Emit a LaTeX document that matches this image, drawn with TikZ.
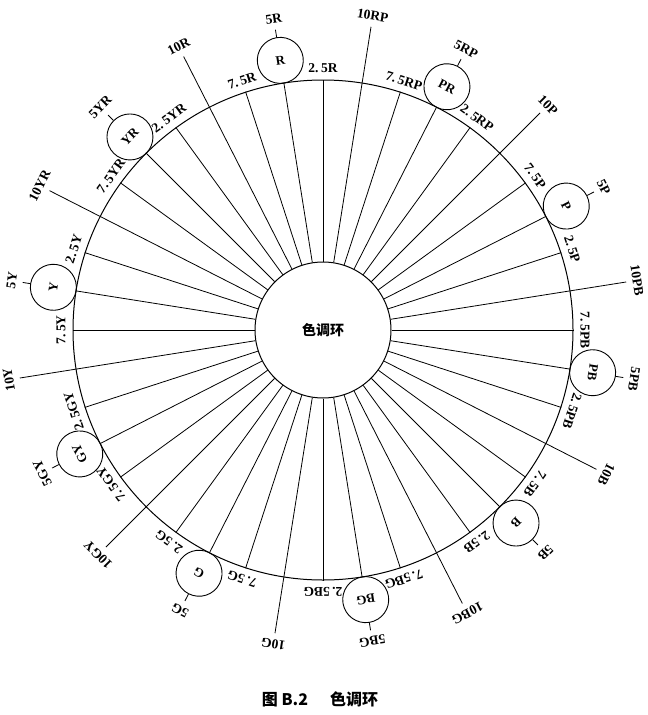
\documentclass[tikz,border=0pt]{standalone}
\usepackage{fontspec}
\setmainfont{Liberation Serif}
\newfontfamily\cjk{Noto Sans CJK SC}
\begin{document}
\begin{tikzpicture}[x=1pt,y=-1pt,line width=0.8pt,
  lab/.style={font=\bfseries\fontsize{13.5}{13.5}\selectfont,inner sep=0pt},
  huecirc/.style={circle,draw,line width=0.9pt,minimum size=46pt,inner sep=0pt,
    font=\bfseries\fontsize{13}{13}\selectfont},
  ring/.style={circle,draw,line width=1pt,inner sep=0pt}]
\useasboundingbox (0,0) rectangle (648,715);
\coordinate (O) at (323,330);
\node[ring,minimum size=500pt] (outer) at (O) {};
\node[ring,minimum size=136pt,font=\cjk\bfseries\fontsize{14}{14}\selectfont] (inner) at (O) {色调环};
\foreach \f/\c [count=\k from 0] in {R/R,YR/YR,Y/Y,GY/GY,G/G,BG/BG,B/B,PB/PB,P/P,RP/PR}{
  \pgfmathsetmacro\a{99+36*\k}
  \pgfmathsetmacro\aa{\a+18}
  \pgfmathsetmacro\ab{\a+9}
  \pgfmathsetmacro\ac{\a-9}
  % 5 hue
  \draw (inner.\a) -- (outer.\a);
  \node[huecirc,rotate=\a-90] (c\f) at ([shift={(\a:273pt)}]O) {\c};
  \coordinate (t\f) at ([shift={(\a:304pt)}]O);
  \draw (c\f.north) -- (t\f);
  \node[lab,rotate=\a-90] (l5\f) at ([shift={(\a:315pt)}]O) {5\f};
  % 10 hue
  \coordinate (e\f) at ([shift={(\aa:307pt)}]O);
  \draw (inner.\aa) -- (e\f);
  \node[lab,rotate=\aa-90] (l10\f) at ([shift={(\aa:318pt)}]O) {10\f};
  % 7.5 hue
  \draw (inner.\ab) -- (outer.\ab);
  \node[lab,rotate=\ab-90] (l75\f) at ([shift={(\ab:262pt)}]O) {7.\hspace{2.5pt}5\f};
  % 2.5 hue
  \draw (inner.\ac) -- (outer.\ac);
  \node[lab,rotate=\ac-90] (l25\f) at ([shift={(\ac:262pt)}]O) {2.\hspace{2.5pt}5\f};
}
\node[font=\cjk\bfseries\fontsize{16}{16}\selectfont,inner sep=0pt] (cap) at (320,699) {图 B.2\hspace{22pt}色调环};
\end{tikzpicture}
\end{document}
